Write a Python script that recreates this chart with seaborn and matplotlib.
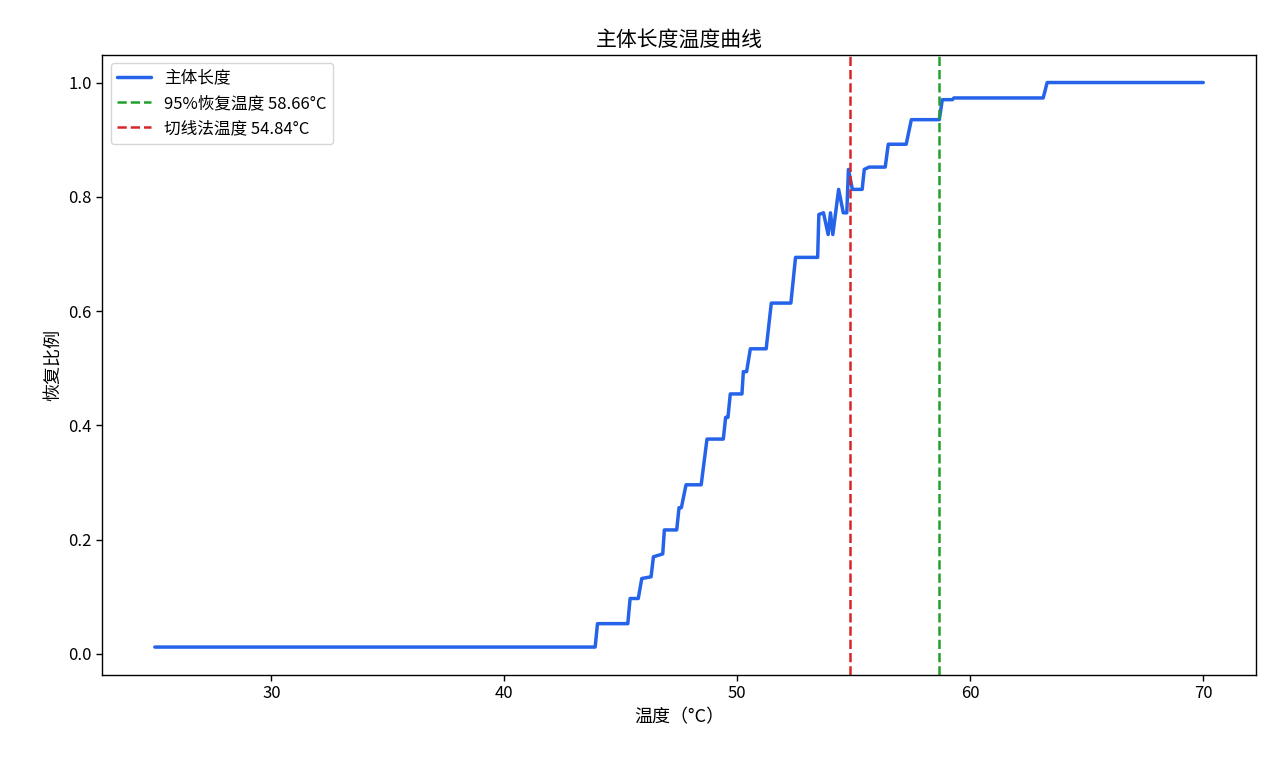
import matplotlib
matplotlib.use("Agg")
import matplotlib.pyplot as plt
import seaborn as sns
import pandas as pd

temps = [25.0, 43.9, 44.0, 45.3, 45.4, 45.75, 45.9, 46.3, 46.4, 46.8, 46.87, 47.4, 47.5, 47.6, 47.8, 48.45, 48.7, 49.4, 49.5, 49.6, 49.7, 50.2, 50.26, 50.4, 50.56, 51.24, 51.46, 52.3, 52.5, 53.45, 53.5, 53.7, 53.9, 54.0, 54.1, 54.35, 54.55, 54.7, 54.77, 54.94, 55.36, 55.45, 55.66, 56.35, 56.48, 57.25, 57.47, 58.67, 58.8, 59.23, 59.3, 63.13, 63.3, 70.0]
ratio = [0.012, 0.012, 0.053, 0.053, 0.097, 0.097, 0.132, 0.135, 0.17, 0.175, 0.217, 0.217, 0.256, 0.256, 0.296, 0.296, 0.376, 0.376, 0.414, 0.414, 0.455, 0.455, 0.494, 0.494, 0.534, 0.534, 0.614, 0.614, 0.694, 0.694, 0.769, 0.772, 0.734, 0.772, 0.734, 0.813, 0.772, 0.772, 0.848, 0.813, 0.813, 0.848, 0.852, 0.852, 0.892, 0.892, 0.935, 0.935, 0.970, 0.970, 0.973, 0.973, 1.0, 1.0]
t95 = 58.66
t_tan = 54.84

sns.set_theme(style="ticks", rc={"axes.edgecolor": "black", "xtick.color": "black",
                                 "ytick.color": "black", "text.color": "black",
                                 "axes.labelcolor": "black"})
plt.rcParams['font.family'] = ['Noto Sans CJK SC', 'DejaVu Sans']
plt.rcParams['axes.unicode_minus'] = False

fig, ax = plt.subplots(figsize=(12.8, 7.68), dpi=100)
df = pd.DataFrame({"t": temps, "r": ratio})
sns.lineplot(data=df, x="t", y="r", ax=ax, color="#2563eb", linewidth=2.5, label="主体长度", sort=False)
ax.axvline(t95, color="#22a02a", linestyle="--", linewidth=1.8, label=f"95%恢复温度 {t95:.2f}°C")
ax.axvline(t_tan, color="#d62728", linestyle="--", linewidth=1.8, label=f"切线法温度 {t_tan:.2f}°C")
ax.set_title("主体长度温度曲线", fontsize=15)
ax.set_xlabel("温度（°C）", fontsize=13)
ax.set_ylabel("恢复比例", fontsize=13)
ax.tick_params(labelsize=12, width=1, length=4)
for s in ax.spines.values():
    s.set_linewidth(1)
ax.set_xlim(22.75, 72.25)
ax.set_ylim(-0.037, 1.049)
ax.legend(loc="upper left", fontsize=12, frameon=True)
fig.subplots_adjust(left=0.08, right=0.981, top=0.929, bottom=0.121)
fig.savefig("out.png", dpi=100)
